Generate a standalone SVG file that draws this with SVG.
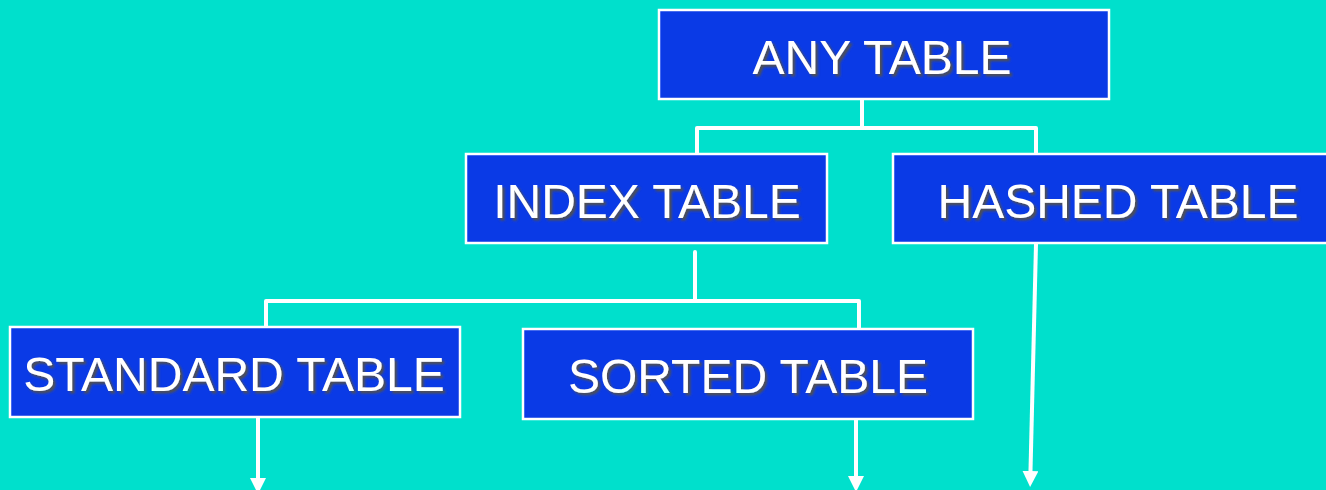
<svg xmlns="http://www.w3.org/2000/svg" width="1326" height="490" viewBox="0 0 1326 490">
<style>
.box{fill:#0a3ae6;stroke:#ffffff;stroke-width:2.5}
.lbl{font-family:"Liberation Sans",Arial,sans-serif;font-size:48px;fill:#ffffff;text-anchor:middle;filter:url(#sh)}
.con{fill:none;stroke:#ffffff;stroke-width:4;stroke-linejoin:round;stroke-linecap:round}
.arr{fill:none;stroke:#ffffff;stroke-width:4;marker-end:url(#ah)}
</style>
<defs>
<filter id="sh" x="-10%" y="-20%" width="120%" height="150%">
<feDropShadow dx="2.5" dy="2.5" stdDeviation="1.2" flood-color="#505050" flood-opacity="1"/>
</filter>
<marker id="ah" markerUnits="userSpaceOnUse" markerWidth="18" markerHeight="18" refX="8" refY="8" orient="auto">
<path d="M0,0 L16,8 L0,16 z" fill="#ffffff"/>
</marker>
</defs>
<rect width="1326" height="490" fill="#00e0cc"/>
<g id="connectors">
<path class="con" d="M862,99 V128 M697,154 V128 H1036 V154"/>
<path class="con" d="M695,252 V301 M266,327 V301 H859 V329"/>
<path class="arr" d="M258,417 V486"/>
<path class="arr" d="M856,419 V484"/>
<path class="arr" d="M1036,244 L1030.3,479"/>
</g>
<g id="any-table">
<rect class="box" x="659" y="10" width="450" height="89"/>
<text class="lbl" x="882" y="74">ANY TABLE</text>
</g>
<g id="index-table">
<rect class="box" x="466" y="154" width="361" height="89"/>
<text class="lbl" x="647" y="218">INDEX TABLE</text>
</g>
<g id="hashed-table">
<rect class="box" x="893" y="154" width="450" height="89"/>
<text class="lbl" x="1118" y="218">HASHED TABLE</text>
</g>
<g id="standard-table">
<rect class="box" x="10" y="327" width="450" height="90"/>
<text class="lbl" x="234" y="391">STANDARD TABLE</text>
</g>
<g id="sorted-table">
<rect class="box" x="523" y="329" width="450" height="90"/>
<text class="lbl" x="748" y="393">SORTED TABLE</text>
</g>
</svg>
